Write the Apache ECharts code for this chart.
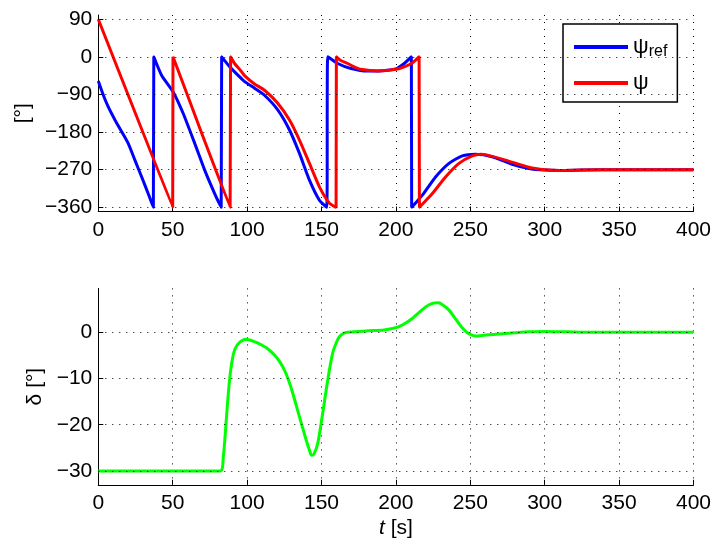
<!DOCTYPE html>
<html>
<head>
<meta charset="utf-8">
<script src="https://cdn.jsdelivr.net/npm/echarts@6/dist/echarts.min.js"></script>
<style>html,body{margin:0;padding:0;background:#fff}#c{width:714px;height:544px}</style>
</head>
<body>
<div id="c"></div>
<script>
// ---- data ----
const xTicks = [0, 50, 100, 150, 200, 250, 300, 350, 400];
const psiTicks = [-360, -270, -180, -90, 0, 90];
const deltaTicks = [-30, -20, -10, 0];

const tRef = [0, 3.4, 6.7, 11.2, 15.7, 20.1, 24.6, 29.1, 33.5, 37, 37.3, 42.5, 50.3, 57, 64.8, 71.5, 78.2, 82.6,
  82.9, 88.3, 91.6, 98, 105, 111.7, 120.6, 128.5, 135.2, 141.9, 148.6, 153.5,
  154.2, 160.9, 169.8, 181, 188.8, 200, 205.6, 210.4,
  210.6, 217.8, 226.8, 235.7, 244.6, 253.6, 264.7, 278.1, 289.3, 300, 310, 325, 350, 400];
const psiRef = [-58, -92, -120, -151, -179, -207, -247, -287, -327, -360, 0, -44, -84, -135, -207, -271, -327, -360,
  0, -24, -36, -58, -75, -92, -127, -175, -231, -295, -343, -360,
  0, -16, -28, -34, -34, -29, -16, 0,
  -360, -331, -287, -255, -237, -233, -239, -257, -267, -271, -272, -271, -270, -270];

const tPsi = [0, 50, 50.2, 69.3, 88.6, 88.9, 91.6, 95, 98.3, 105, 111.7, 120.6, 128.5, 135.2, 141.9, 148.6, 155.3, 159.8,
  160, 163, 167.6, 172, 176.5, 187.7, 200, 205.6, 211, 215.6,
  215.8, 224.5, 233.5, 242.4, 251.3, 257, 260.3, 273.7, 289.3, 300, 310, 325, 350, 400];
const psi = [90, -360, 0, -181, -360, 0, -16, -30, -45, -65, -80, -111, -151, -199, -255, -311, -350, -360,
  0, -9, -16, -24, -30, -34, -30, -24, -15, 0,
  -360, -327, -287, -255, -237, -233, -234, -247, -264, -270, -272, -271, -270, -270];

const tDelta = [0, 82, 84, 86, 88, 90, 92, 95, 99, 104, 109.5, 114, 118.4, 122, 125.1, 128, 130.7, 135.2, 139.7,
  142, 143.4, 145, 147.5, 150.8, 154.2, 157.5, 160, 162, 165, 167.6, 180, 192, 200, 205, 211, 216, 220,
  225, 228.6, 232, 235.7, 239, 242.4, 245, 248, 251, 253.6, 260, 267, 280, 290, 300, 315, 330, 400];
const delta = [-30, -30, -27, -19, -11, -6, -3.5, -2.2, -1.5, -1.9, -2.7, -3.6, -4.9, -6.4, -8.2, -10.5, -13.2, -18.3, -23.3,
  -25.6, -26.6, -26.3, -24, -17.5, -10.3, -4.5, -2.2, -0.95, -0.2, 0, 0.3, 0.5, 1.0, 1.7, 3.0, 4.4, 5.5,
  6.3, 6.4, 5.8, 4.8, 3.4, 1.9, 0.8, -0.1, -0.6, -0.8, -0.6, -0.4, -0.1, 0.1, 0.2, 0.1, 0, 0];

const seriesNames = ['ψref', 'ψ'];

// ---- build ----
const pairs = (xs, ys) => xs.map((x, i) => [x, ys[i]]);
const FONT = 'Liberation Sans';
const minus = v => String(v).replace('-', '\u2212');
const gridStyle = { type: [1, 6], color: '#000', width: 1 };

function xAxis(idx, name) {
  return {
    type: 'value', gridIndex: idx, min: 0, max: 400, interval: 50,
    axisLine: { show: true, onZero: false, lineStyle: { color: '#000', width: 1 } },
    axisTick: { show: true, inside: true, length: 5, lineStyle: { color: '#000' } },
    axisLabel: { fontFamily: FONT, fontSize: 21, color: '#000', margin: 8 },
    splitLine: { show: true, lineStyle: gridStyle },
    name: name || '', nameLocation: 'middle', nameGap: 33,
    nameTextStyle: { fontFamily: FONT, fontSize: 21, color: '#000',
      rich: { i: { fontFamily: FONT, fontStyle: 'italic', fontSize: 21, color: '#000' },
              n: { fontFamily: FONT, fontSize: 21, color: '#000' } } }
  };
}
function yAxis(idx, min, max, ticks, name, gap) {
  return {
    type: 'value', gridIndex: idx, min: min, max: max,
    axisLine: { show: true, onZero: false, lineStyle: { color: '#000', width: 1 } },
    axisTick: { show: true, inside: true, length: 5, lineStyle: { color: '#000' }, customValues: ticks },
    axisLabel: { fontFamily: FONT, fontSize: 21, color: '#000', margin: 6, formatter: minus, customValues: ticks },
    splitLine: { show: false },
    name: name, nameLocation: 'middle', nameGap: gap, nameRotate: 90,
    nameTextStyle: { fontFamily: FONT, fontSize: 21, color: '#000' }
  };
}
function gridLines(xi, yi, ticks) {
  return {
    type: 'line', xAxisIndex: xi, yAxisIndex: yi, data: [], silent: true, z: 1,
    markLine: { silent: true, symbol: ['none', 'none'], label: { show: false },
      lineStyle: gridStyle, emphasis: { disabled: true },
      data: ticks.map(v => ({ yAxis: v })) }
  };
}

const chart = echarts.init(document.getElementById('c'), null, { renderer: 'canvas' });
chart.setOption({
  animation: false,
  backgroundColor: '#fff',
  grid: [
    { left: 98.3, right: 18.9, top: 15, height: 196.5 },
    { left: 98.3, right: 18.9, top: 288.4, height: 196.4 }
  ],
  xAxis: [xAxis(0), xAxis(1, '{i|t} {n|[s]}')],
  yAxis: [yAxis(0, -370, 100, psiTicks, '[°]', 62), yAxis(1, -33, 9.5, deltaTicks, 'δ [°]', 52)],
  legend: {
    data: seriesNames,
    orient: 'vertical', left: 563, top: 24,
    backgroundColor: '#fff', borderColor: '#000', borderWidth: 1.5,
    padding: [12, 10, 8, 11], itemGap: 12,
    itemWidth: 54, itemHeight: 4, icon: 'rect',
    formatter: n => n === 'ψref' ? '{a|ψ}{b|ref}' : '{a|ψ}',
    textStyle: {
      rich: {
        a: { fontFamily: FONT, fontSize: 22, color: '#000' },
        b: { fontFamily: FONT, fontSize: 16, color: '#000', padding: [10, 0, 0, 0] }
      }
    }
  },
  series: [
    gridLines(0, 0, psiTicks),
    gridLines(1, 1, deltaTicks),
    { name: 'ψref', type: 'line', xAxisIndex: 0, yAxisIndex: 0, data: pairs(tRef, psiRef), z: 3,
      showSymbol: false, smooth: 0.2, color: '#0000ff', lineStyle: { color: '#0000ff', width: 3 } },
    { name: 'ψ', type: 'line', xAxisIndex: 0, yAxisIndex: 0, data: pairs(tPsi, psi), z: 4,
      showSymbol: false, smooth: 0.2, color: '#ff0000', lineStyle: { color: '#ff0000', width: 3 } },
    { name: 'δ', type: 'line', xAxisIndex: 1, yAxisIndex: 1, data: pairs(tDelta, delta), z: 3,
      showSymbol: false, smooth: 0.3, color: '#00ff00', lineStyle: { color: '#00ff00', width: 3 } }
  ]
});
</script>
</body>
</html>
